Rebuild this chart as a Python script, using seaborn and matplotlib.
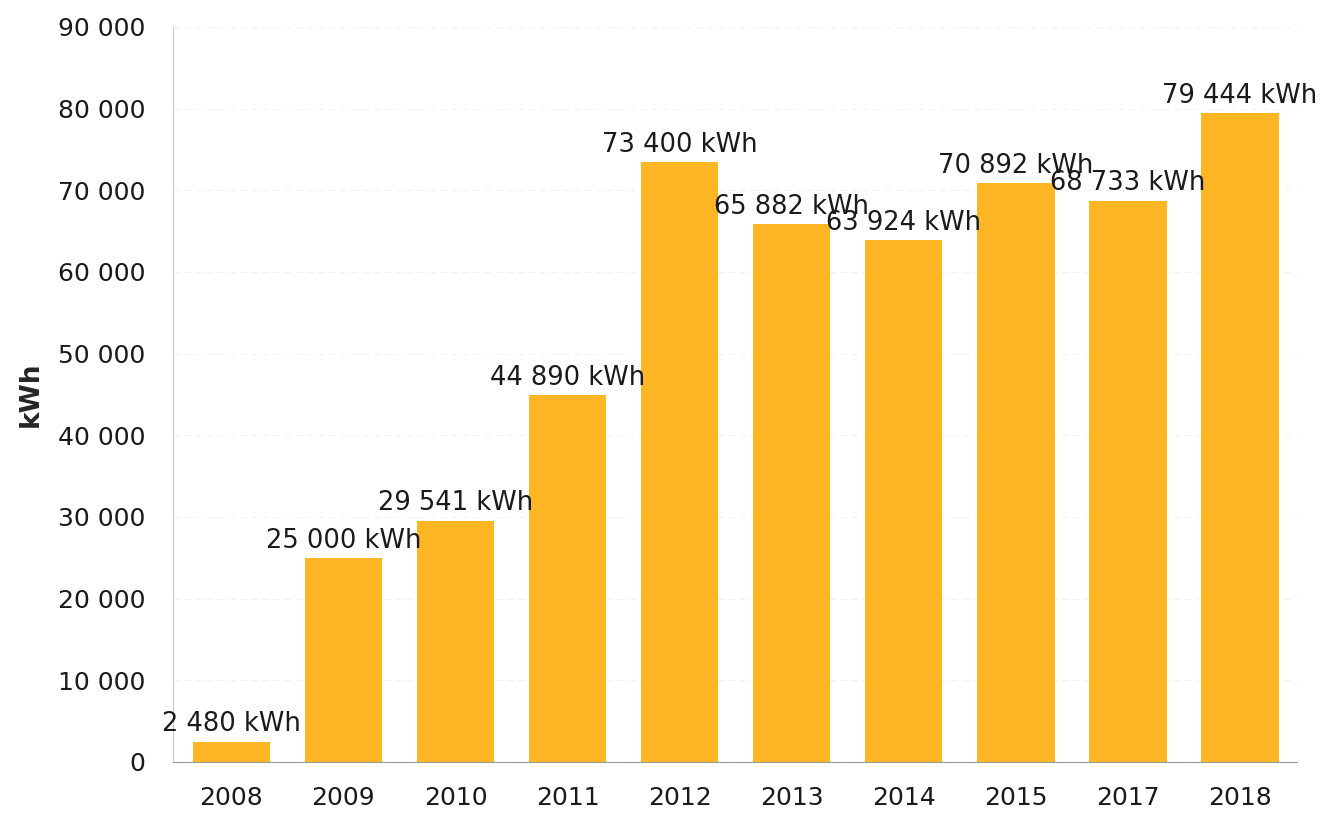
import matplotlib
matplotlib.use("Agg")
import matplotlib.pyplot as plt
import pandas as pd
import seaborn as sns
from matplotlib.ticker import FuncFormatter

# Yearly production
years = ["2008", "2009", "2010", "2011", "2012", "2013", "2014", "2015", "2017", "2018"]
energy_kwh = [2480, 25000, 29541, 44890, 73400, 65882, 63924, 70892, 68733, 79444]
y_ticks = [0, 10000, 20000, 30000, 40000, 50000, 60000, 70000, 80000, 90000]


def space_thousands(value, _pos=None):
    return f"{int(value):,}".replace(",", " ")


df = pd.DataFrame({"year": years, "kwh": energy_kwh})

sns.set_style("white")
plt.rcParams["font.family"] = ["DejaVu Sans"]

fig, ax = plt.subplots(figsize=(13.21, 8.14), dpi=100)
fig.subplots_adjust(left=0.131, right=0.982, top=0.967, bottom=0.064)

sns.barplot(data=df, x="year", y="kwh", color="#FFB624", saturation=1,
            width=0.69, linewidth=0, ax=ax)

# value labels above each bar
for i, val in enumerate(energy_kwh):
    ax.annotate(
        f"{space_thousands(val)} kWh",
        xy=(i, val),
        xytext=(0, 3),
        textcoords="offset points",
        ha="center",
        va="bottom",
        fontsize=18.5,
        color="#1a1a1a",
    )

ax.set_ylim(0, 90000)
ax.set_xlim(-0.52, len(years) - 0.49)
ax.set_yticks(y_ticks)
ax.yaxis.set_major_formatter(FuncFormatter(space_thousands))
ax.yaxis.grid(True, color="#f2f2f2", linewidth=0.8, linestyle=(0, (6, 4)))
ax.set_axisbelow(True)

ax.set_xlabel("")
ax.set_ylabel("kWh", fontsize=19, fontweight="bold", labelpad=10)
ax.tick_params(axis="both", labelsize=18, colors="#1a1a1a", length=6, width=0.8)
ax.tick_params(axis="x", pad=11)
ax.tick_params(axis="y", pad=14)
for t in ax.get_xticklines() + ax.get_yticklines():
    t.set_color("#b0b0b0")

sns.despine(ax=ax, top=True, right=True)
ax.spines["left"].set_color("#c8c8c8")
ax.spines["bottom"].set_color("#9a9a9a")

fig.savefig("out.png", dpi=100)
